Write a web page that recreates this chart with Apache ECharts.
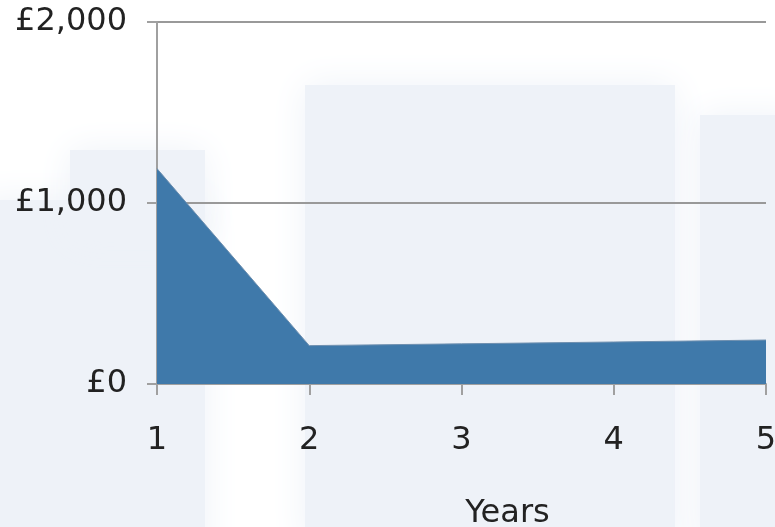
<!DOCTYPE html>
<html>
<head>
<meta charset="utf-8">
<script src="https://cdn.jsdelivr.net/npm/echarts@6/dist/echarts.min.js"></script>
<style>
  html, body { margin: 0; padding: 0; background: #fff; }
  #chart { width: 775px; height: 527px; }
</style>
</head>
<body>
<div id="chart"></div>
<script>
// chart data
var years = ['1', '2', '3', '4', '5'];
var costs = [1190, 212, 222, 232, 243];
var yTicks = [0, 1000, 2000];

var myChart = echarts.init(document.getElementById('chart'));

// faint backdrop shapes behind the chart
var bg = '#eef2f8';
function softRect(x, y, w, h) {
  return {
    type: 'rect',
    z: -10,
    silent: true,
    shape: { x: x, y: y, width: w, height: h },
    style: { fill: bg, shadowBlur: 36, shadowColor: bg }
  };
}

var option = {
  backgroundColor: '#ffffff',
  animation: false,
  graphic: [
    softRect(305, 85, 370, 460),
    softRect(-20, 200, 225, 360),
    softRect(70, 150, 135, 90),
    softRect(700, 115, 100, 430)
  ],
  grid: { left: 157, right: 9, top: 22, bottom: 143, outerBoundsMode: 'none', containLabel: false },
  xAxis: {
    type: 'category',
    data: years,
    boundaryGap: false,
    name: 'Years',
    nameLocation: 'middle',
    nameGap: 114,
    nameTextStyle: {
      fontFamily: 'DejaVu Sans',
      fontSize: 32,
      color: '#222',
      padding: [0, 0, 0, 92]
    },
    axisLine: { lineStyle: { color: '#a0a0a0', width: 2 } },
    axisTick: { show: true, length: 11, lineStyle: { color: '#a0a0a0', width: 2 } },
    axisLabel: {
      margin: 41,
      fontFamily: 'DejaVu Sans',
      fontSize: 32,
      color: '#222'
    },
    splitLine: { show: false }
  },
  yAxis: {
    type: 'value',
    min: yTicks[0],
    max: yTicks[yTicks.length - 1],
    interval: 1000,
    axisLine: { show: true, lineStyle: { color: '#a0a0a0', width: 2 } },
    axisTick: { show: true, length: 10, lineStyle: { color: '#a0a0a0', width: 2 } },
    axisLabel: {
      margin: 30,
      fontFamily: 'DejaVu Sans',
      fontSize: 32,
      color: '#222',
      formatter: function (v) {
        return '£' + v.toLocaleString('en-GB');
      }
    },
    splitLine: { show: true, lineStyle: { color: '#999', width: 2 } }
  },
  series: [{
    type: 'line',
    data: costs,
    symbol: 'none',
    lineStyle: { color: '#6f90b0', width: 1 },
    areaStyle: { color: '#3f79aa', opacity: 1 },
    z: 3
  }]
};

myChart.setOption(option);
</script>
</body>
</html>
